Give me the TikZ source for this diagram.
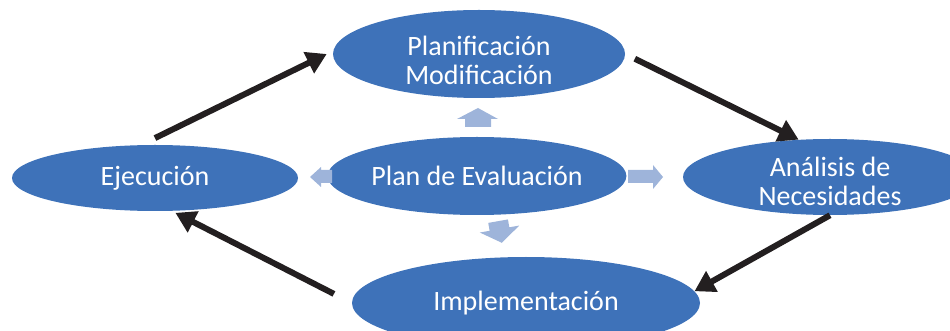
\documentclass[tikz,border=0pt]{standalone}
\usepackage{fontspec}
\setmainfont{Carlito}
\usetikzlibrary{shapes.geometric, arrows.meta}
\definecolor{ovalblue}{RGB}{62,114,185}
\definecolor{paleblue}{RGB}{158,180,218}
\definecolor{ink}{RGB}{35,31,32}
\tikzset{>={Triangle[length=15pt, width=17pt]}}
\tikzset{oval/.style={ellipse, fill=ovalblue, text=white, inner sep=0pt, align=center,
    font=\fontsize{21}{21.75}\selectfont}}
\tikzset{oval text/.style={text=white, inner sep=0pt, align=center,
    font=\fontsize{21}{21.75}\selectfont}}
\tikzset{cycle arrow/.style={->, ink, line width=4.5pt}}
\tikzset{small arrow/.style={fill=paleblue, draw=none}}

\begin{document}
\begin{tikzpicture}[x=0.75pt, y=-0.75pt]
    \clip (0,0) rectangle (950,331);
    \node [oval, minimum width=219pt, minimum height=66pt] (plan) at (479,54) {};
    \node [oval text] (plan-text) at ([yshift=-4.5pt]plan.center) {Planificación\\Modificación};
    \node [oval, minimum width=214.5pt, minimum height=49.5pt] (ejec) at (155,178) {Ejecución};
    \node [oval, minimum width=204pt, minimum height=58.5pt] (eval) at (477,176) {Plan de Evaluación};
    \node [oval, minimum width=220.5pt, minimum height=57pt] (anal) at (830,177) {};
    \node [oval text] (anal-text) at ([yshift=-3.5pt]anal.center) {Análisis de\\Necesidades};
    \node [oval, minimum width=261pt, minimum height=69pt] (impl) at (526,303) {Implementación};
    % the cycle
    \draw [cycle arrow] ([yshift=5pt]ejec.north) -- ([xshift=-4.5pt]plan.west);
    \draw [cycle arrow, shorten <=8pt] (plan.east) -- (anal.130);
    \draw [cycle arrow] (anal.south) -- (impl.4);
    \draw [cycle arrow, shorten <=15pt, shorten >=3pt] (impl.west) -- (ejec.-63);
    % small arrows round the plan
    \fill [small arrow] (457,119) -- (478,108) -- (498,119) -- (491,119) -- (491,127) -- (465,127) -- (465,119) -- cycle;
    \fill [small arrow] (310,177) -- (321,167) -- (321,170) -- (332,170) -- (332,183) -- (321,183) -- (321,187) -- cycle;
    \fill [small arrow] (663,177) -- (653,165) -- (653,170) -- (628,170) -- (628,183) -- (653,183) -- (653,189) -- cycle;
    \begin{scope}[shift={(500,232)}, rotate=10]
        \fill [small arrow] (-10,-11) -- (10,-11) -- (10,-3) -- (20,-3) -- (0,11) -- (-20,-3) -- (-10,-3) -- cycle;
    \end{scope}
\end{tikzpicture}
\end{document}
